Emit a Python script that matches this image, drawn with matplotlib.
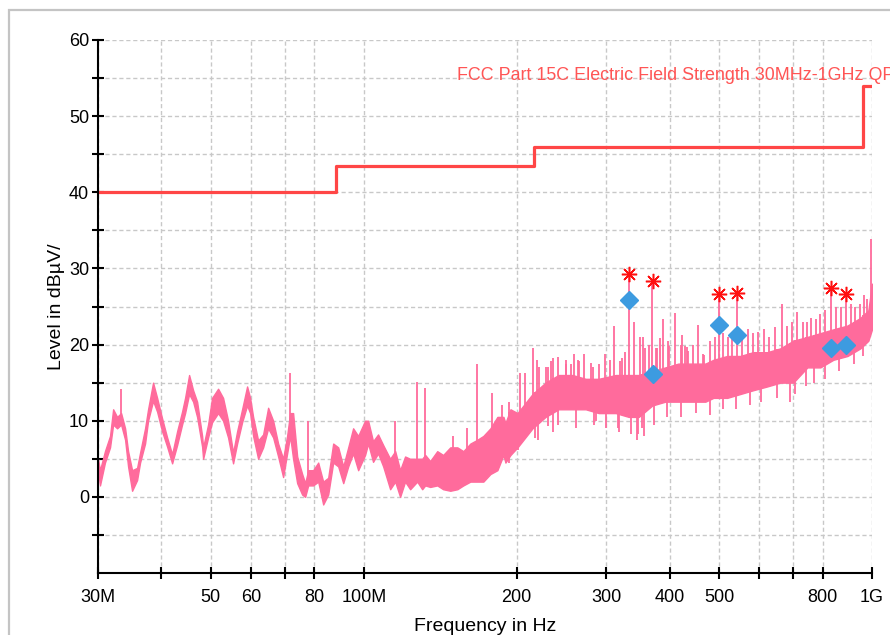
import numpy as np
import matplotlib.pyplot as plt
from matplotlib.ticker import FixedLocator, NullFormatter
from matplotlib.patches import Rectangle

# --- dados (frequencia em MHz, nivel em dBuV) ---
trace_freq = [30.0, 30.27, 30.96, 31.68, 32.13, 32.71, 33.31, 33.92, 34.38, 35.01,
              35.81, 36.30, 37.13, 37.64, 38.50, 39.21, 40.11, 41.03, 41.97, 42.93,
              43.91, 44.51, 45.33, 46.16, 47.00, 48.08, 48.30, 49.40, 50.30, 51.69,
              52.87, 54.08, 55.32, 56.34, 57.63, 58.95, 59.76, 60.58, 61.97, 63.39,
              64.84, 66.33, 67.85, 69.40, 70.67, 71.63, 72.61, 73.96, 75.65, 76.69,
              77.74, 79.52, 81.35, 83.21, 85.12, 87.07, 89.07, 91.12, 93.2, 95.3,
              97.5, 100.6, 102.0, 104.3, 106.7, 109.2, 112.7, 115.3, 117.9, 120.6,
              123.4, 127.4, 130.3, 132.1, 135.1, 139.5, 143.3, 148.0, 152.8, 157.0,
              162.1, 167.3, 171.9, 177.5, 183.2, 188.3, 190.0, 194.4, 200.7, 214.8,
              227.9, 241.7, 257.6, 273.3, 289.9, 313.2, 332.2, 347.6, 369.6, 392.1,
              415.9, 443.2, 470.1, 487.6, 518.9, 550.3, 583.6, 622.2, 660.0, 700.0,
              746.1, 791.3, 839.4, 895.0, 948.7, 983.6, 1000.0]
trace_lo = [3.5, 1.5, 4.5, 6.5, 9.5, 9.0, 9.5, 7.5, 4.0, 0.8,
            2.2, 4.5, 7.0, 10.0, 12.6, 11.2, 8.6, 6.6, 4.4, 6.8,
            9.5, 11.0, 13.5, 12.5, 10.5, 6.6, 5.0, 7.8, 9.8, 11.0,
            10.0, 7.8, 4.4, 7.0, 9.8, 12.0, 11.0, 8.0, 5.0, 6.5,
            9.0, 7.8, 5.3, 2.6, 5.7, 8.0, 5.0, 1.8, 0.3, 0.0,
            1.5, 1.5, 2.0, -1.0, 0.3, 4.5, 4.0, 1.8, 4.0, 5.7,
            3.5, 5.5, 7.0, 4.6, 5.7, 4.0, 1.0, 2.0, 0.0, 2.0,
            1.0, 2.0, 1.0, 1.5, 1.3, 1.5, 1.0, 0.8, 1.0, 1.5,
            2.0, 2.0, 2.0, 3.0, 3.5, 5.5, 4.5, 5.5, 6.5, 9.0,
            10.5, 11.5, 11.5, 11.5, 11.0, 11.0, 10.5, 10.5, 12.0, 12.5,
            12.5, 12.5, 12.5, 13.0, 13.0, 13.5, 14.0, 14.5, 15.0, 15.0,
            17.0, 17.0, 18.0, 18.5, 19.5, 20.5, 22.0]
trace_hi = [5.0, 3.5, 6.0, 8.0, 11.5, 10.5, 11.0, 9.0, 6.0, 3.5,
            3.8, 5.8, 9.0, 11.5, 15.0, 13.0, 10.3, 7.8, 5.6, 8.6,
            11.2, 13.0, 16.0, 14.0, 12.5, 8.0, 6.5, 9.5, 13.0, 14.2,
            13.0, 10.0, 5.8, 8.6, 11.5, 14.5, 13.0, 10.5, 7.4, 8.2,
            11.7, 10.0, 7.0, 5.0, 8.0, 11.0, 11.0, 5.3, 3.0, 1.8,
            3.5, 3.5, 4.5, 2.0, 2.5, 7.0, 6.5, 4.0, 6.5, 9.0,
            8.0, 10.0, 10.0, 7.3, 8.2, 6.8, 5.0, 6.0, 3.5, 5.3,
            5.0, 5.0, 5.0, 5.5, 4.7, 6.0, 5.5, 6.5, 6.5, 6.0,
            7.0, 7.5, 8.0, 9.0, 10.5, 10.5, 9.7, 11.5, 11.0, 13.5,
            15.0, 16.0, 16.0, 15.5, 15.5, 16.0, 16.0, 16.0, 16.5, 17.0,
            17.5, 17.5, 17.5, 18.0, 18.5, 18.5, 19.0, 19.0, 19.5, 20.5,
            21.0, 21.5, 22.0, 22.5, 23.5, 24.5, 28.0]

spike_freq = [33.31, 71.63, 77.74, 115.3, 127.4, 132.1, 150.0, 160.0, 167.3, 179.0,
              187.0, 193.0, 196.2, 203.1, 207.9, 215.5, 219.5, 221.0, 227.9, 230.9,
              234.0, 236.2, 240.6, 249.5, 250.0, 255.2, 258.8, 263.4, 265.0, 270.8,
              280.0, 281.9, 290.0, 298.6, 305.0, 311.0, 319.6, 322.5, 327.0, 333.0,
              340.6, 350.0, 354.9, 358.0, 364.0, 369.6, 376.0, 378.0, 383.2, 388.6,
              397.4, 398.0, 410.2, 420.0, 423.5, 428.0, 433.2, 435.0, 445.0, 455.2,
              465.7, 467.9, 480.0, 490.0, 500.0, 510.0, 520.0, 530.0, 543.0, 555.0,
              570.0, 584.0, 597.6, 612.0, 628.0, 645.0, 666.3, 680.0, 695.0, 713.2,
              730.0, 746.1, 760.0, 775.0, 790.0, 810.0, 832.0, 850.0, 870.0, 890.0,
              910.0, 927.6, 945.0, 965.0, 979.6, 995.0]
spike_top = [14.1, 16.3, 10.0, 10.0, 15.1, 14.3, 8.0, 9.0, 17.5, 13.7,
             12.0, 12.5, 11.0, 16.3, 16.3, 19.6, 18.0, 17.0, 17.1, 17.0,
             17.8, 18.2, 18.4, 18.0, 17.5, 17.5, 18.8, 18.0, 17.8, 18.8,
             17.6, 17.0, 17.5, 18.8, 18.0, 22.4, 17.8, 18.2, 19.0, 29.3,
             22.9, 21.0, 21.0, 19.5, 20.0, 28.3, 19.5, 19.6, 20.8, 23.3,
             20.5, 19.8, 24.2, 20.0, 21.3, 19.8, 19.7, 19.1, 20.0, 22.6,
             18.7, 18.6, 20.5, 21.0, 26.6, 21.5, 21.0, 21.5, 26.8, 21.5,
             22.0, 21.5, 21.7, 22.0, 21.0, 22.3, 25.3, 22.5, 23.0, 24.3,
             23.0, 23.0, 23.5, 23.3, 24.0, 24.5, 27.4, 25.0, 25.0, 26.6,
             25.3, 25.0, 25.3, 26.5, 26.0, 33.8]

dip_freq = [193.5, 201.0, 217.0, 220.0, 230.0, 236.0, 240.6, 262.0, 284.0, 286.0,
            300.0, 316.0, 318.0, 336.0, 345.0, 346.0, 353.0, 356.0, 372.0, 395.0,
            420.0, 450.0, 480.0, 510.0, 540.0, 575.0, 605.0, 650.0, 690.0, 705.0,
            740.0, 770.0, 810.0, 860.0, 920.0, 960.0]
dip_bottom = [4.5, 6.2, 7.7, 7.5, 9.3, 8.5, 9.5, 9.0, 9.5, 10.0,
              9.0, 9.0, 8.5, 8.3, 7.5, 8.3, 9.0, 8.0, 9.5, 10.5,
              10.5, 11.0, 10.8, 11.5, 11.5, 12.0, 12.5, 13.0, 12.5, 13.5,
              14.5, 15.0, 15.5, 16.5, 17.5, 18.5]

peak_freq = [333.0, 370.0, 500.0, 543.0, 832.0, 890.0]
peak_level = [29.3, 28.3, 26.6, 26.8, 27.4, 26.6]
qp_level = [25.9, 16.2, 22.6, 21.3, 19.5, 19.9]

limit_freq = [30, 88, 88, 216, 216, 960, 960, 1000]
limit_level = [40, 40, 43.5, 43.5, 46, 46, 54, 54]

xticks = [30, 40, 50, 60, 70, 80, 100, 200, 300, 400, 500, 600, 700, 800, 1000]
xlabels = ['30M', '', '50', '60', '', '80', '100M', '200', '300', '400', '500', '', '', '800', '1G']

plt.rcParams['font.family'] = ['Liberation Sans', 'DejaVu Sans']

fig = plt.figure(figsize=(8.9, 6.35), dpi=100)
ax = fig.add_axes([98 / 890, 62 / 635, 774 / 890, 533 / 635])

# moldura cinza externa
fig.patches.append(Rectangle((9 / 890, -0.1), 1.2, 1.1 - 10 / 635, transform=fig.transFigure,
                             fill=False, edgecolor='#c4c4c4', linewidth=1.6))

pink = '#ff6b9c'
tf = np.log10(trace_freq)
ax.fill_between(trace_freq, trace_lo, trace_hi, color=pink, linewidth=1.0, edgecolor=pink, zorder=3)

base_up = np.interp(np.log10(spike_freq), tf, trace_lo)
ax.vlines(spike_freq, base_up, spike_top, color=pink, linewidth=1.3, zorder=3)
base_dn = np.interp(np.log10(dip_freq), tf, trace_hi)
ax.vlines(dip_freq, dip_bottom, base_dn, color=pink, linewidth=1.3, zorder=3)

ax.plot(limit_freq, limit_level, color='#ff4646', linewidth=2.3, zorder=4)
# o texto do limite sai pela borda direita, como no original
ax.text(152.8, 55.4, 'FCC Part 15C Electric Field Strength 30MHz-1GHz QP', color='#ff5555',
        fontsize=12.9, va='center', ha='left', clip_on=False, zorder=5)

ax.plot(peak_freq, peak_level, linestyle='none', marker=(8, 2, 0), markersize=11,
        markeredgecolor='#ff1010', markeredgewidth=1.1, zorder=6)
ax.plot(peak_freq, qp_level, linestyle='none', marker='D', markersize=9,
        color='#3d9be0', markeredgecolor='#3d9be0', zorder=6)

ax.set_xscale('log')
ax.set_xlim(30, 1000)
ax.set_ylim(-10, 60)
ax.xaxis.set_major_locator(FixedLocator(xticks))
ax.xaxis.set_minor_locator(FixedLocator([]))
ax.set_xticklabels(xlabels)
ax.set_yticks([0, 10, 20, 30, 40, 50, 60])
ax.set_yticks([-5, 5, 15, 25, 35, 45, 55], minor=True)
ax.yaxis.set_minor_formatter(NullFormatter())

ax.grid(True, which='both', color='#c8c8c8', linestyle=(0, (3, 2)), linewidth=1.0)
ax.set_axisbelow(True)

for s in ['top', 'right']:
    ax.spines[s].set_visible(False)
for s in ['left', 'bottom']:
    ax.spines[s].set_linewidth(1.5)
    ax.spines[s].set_zorder(7)

ax.tick_params(axis='both', which='both', direction='inout', length=9, width=1.5,
               labelsize=13, colors='black')
ax.tick_params(axis='x', pad=7)
ax.tick_params(axis='y', pad=2)

ax.set_xlabel('Frequency in Hz', fontsize=14, labelpad=9)
ax.set_ylabel('Level in dB\u00b5V/', fontsize=14, labelpad=3)

fig.savefig('out.png', dpi=100)
